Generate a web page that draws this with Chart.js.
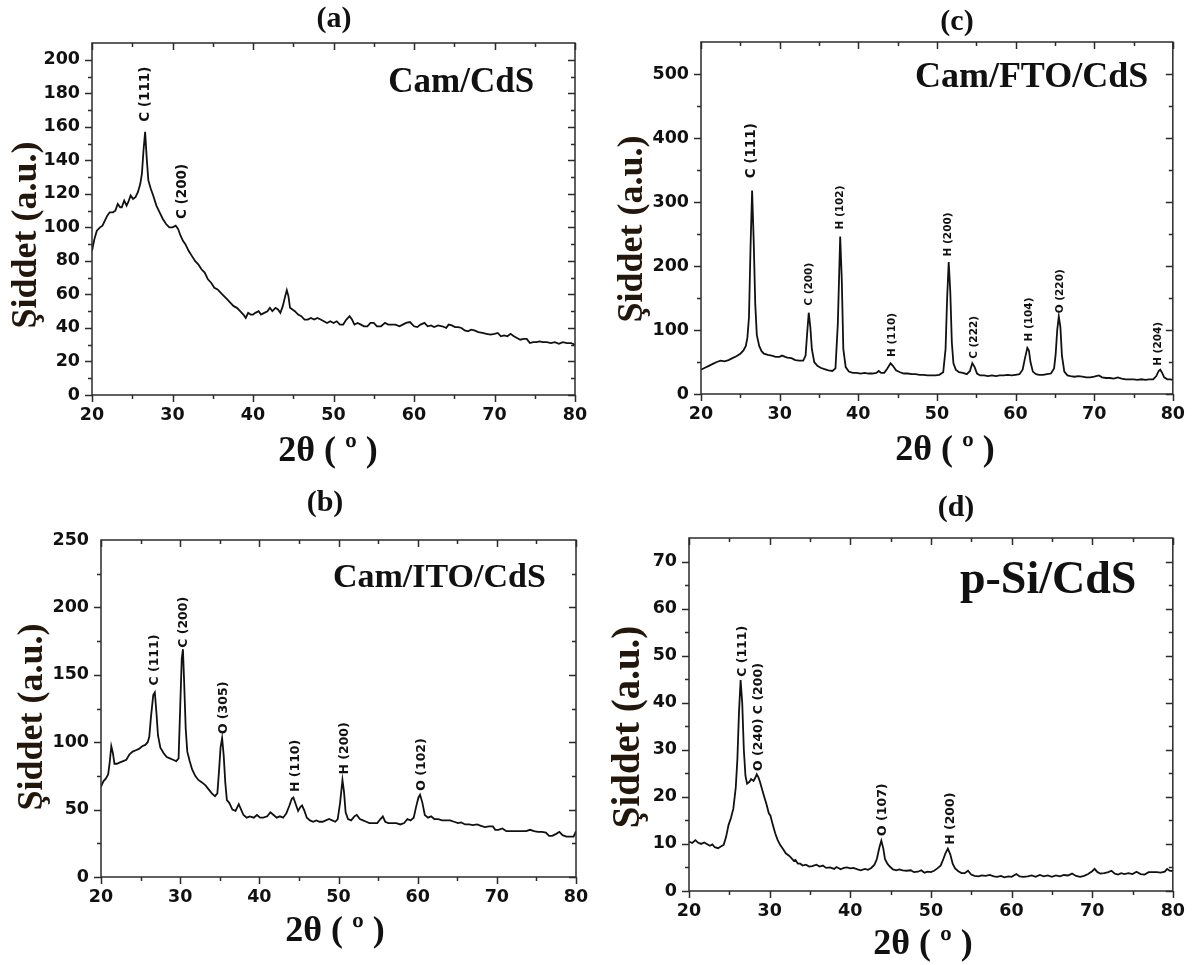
<!DOCTYPE html>
<html>
<head>
<meta charset="utf-8">
<title>XRD - CdS filmleri</title>
<script src="https://cdn.jsdelivr.net/npm/chart.js@4.4.1/dist/chart.umd.min.js"></script>
<style>
  html, body { margin: 0; padding: 0; background: #fff; }
  #wrap { position: relative; width: 1195px; height: 965px; overflow: hidden; }
  .panel { position: absolute; }
</style>
</head>
<body>
<div id="wrap">
  <canvas class="panel" id="chartA" width="600" height="480" style="left:0;top:0"></canvas>
  <canvas class="panel" id="chartC" width="595" height="480" style="left:600px;top:0"></canvas>
  <canvas class="panel" id="chartB" width="600" height="485" style="left:0;top:480px"></canvas>
  <canvas class="panel" id="chartD" width="595" height="485" style="left:600px;top:480px"></canvas>
</div>
<script>
// (a) Cam/CdS
const camCdsAngle = [20.0, 20.3, 20.6, 21.0, 21.3, 21.6, 21.9, 22.2, 22.6, 22.9, 23.2, 23.5, 23.7, 24.0, 24.3, 24.5, 24.8, 25.1, 25.4, 25.7,
  26.0, 26.2, 26.4, 26.6, 26.8, 27.0, 27.3, 27.6, 28.0, 28.4, 28.8, 29.2, 29.6, 30.0, 30.4, 30.7, 31.0, 31.3, 31.6, 32.0,
  32.4, 32.8, 33.2, 33.6, 34.0, 34.4, 34.8, 35.2, 35.6, 36.0, 36.4, 36.8, 37.2, 37.6, 38.0, 38.4, 38.8, 39.1, 39.4, 39.7,
  40.0, 40.3, 40.7, 41.0, 41.4, 41.8, 42.1, 42.4, 42.8, 43.1, 43.4, 43.7, 44.0, 44.2, 44.4, 44.6, 44.9, 45.2, 45.6, 46.0,
  46.4, 46.8, 47.2, 47.6, 48.0, 48.4, 48.8, 49.2, 49.6, 50.0, 50.4, 50.8, 51.2, 51.6, 52.0, 52.3, 52.6, 53.0, 53.4, 53.8,
  54.2, 54.6, 55.0, 55.4, 55.9, 56.4, 56.8, 57.2, 57.7, 58.2, 58.6, 59.0, 59.5, 60.0, 60.4, 60.8, 61.3, 61.7, 62.1, 62.5,
  63.0, 63.5, 64.0, 64.3, 64.7, 65.1, 65.5, 65.9, 66.3, 66.7, 67.1, 67.5, 68.0, 68.5, 69.0, 69.5, 70.0, 70.4, 70.8, 71.2,
  71.6, 72.0, 72.4, 72.8, 73.2, 73.6, 74.0, 74.4, 74.8, 75.2, 75.6, 76.0, 76.5, 77.0, 77.5, 78.0, 78.5, 79.0, 79.5, 80.0];
const camCdsCounts = [86, 93, 98, 100, 101, 104, 107, 109, 109, 110, 114, 112, 112, 116, 113, 115, 119, 117, 118, 121,
  126, 132, 146, 157, 141, 128, 123, 119, 113, 109, 105, 102, 100, 100, 101, 99, 95, 92, 90, 86,
  83, 80, 78, 75, 73, 69, 67, 64, 63, 61, 59, 57, 55, 53, 52, 50, 48, 46, 49, 48,
  48, 49, 50, 48, 49, 50, 52, 50, 52, 51, 49, 53, 59, 62.5, 59, 52, 51, 50, 48, 47,
  45, 45, 46, 45, 46, 45, 44, 43, 44, 43, 44, 42, 42, 45, 47, 45, 42, 43, 42, 41,
  41, 43, 43, 41, 41, 43, 42, 42, 42, 41, 42, 43, 43.5, 41, 40.5, 42, 43, 41, 41.5, 40.5,
  41.5, 41, 40, 42, 41.5, 40.5, 40.5, 40, 38.5, 38, 39, 38.5, 37.5, 37, 36.5, 36, 36.5, 37, 35, 35.5,
  35, 36.5, 35, 34, 33, 33.5, 33.5, 31, 31.5, 31.5, 32, 31.5, 31.5, 31, 31.5, 30.5, 31.5, 31, 31, 30];

// (c) Cam/FTO/CdS
const camFtoAngle = [20.0, 20.5, 21.0, 21.5, 22.0, 22.5, 23.0, 23.5, 24.0, 24.5, 25.0, 25.4, 25.7, 25.9, 26.1, 26.3, 26.5, 26.7, 26.9, 27.1,
  27.4, 27.7, 28.0, 28.5, 29.0, 29.5, 30.0, 30.3, 30.7, 31.0, 31.5, 32.0, 32.5, 33.0, 33.3, 33.5, 33.7, 33.9, 34.1, 34.4,
  34.8, 35.2, 35.7, 36.2, 36.7, 37.1, 37.4, 37.7, 37.9, 38.1, 38.4, 38.8, 39.3, 39.8, 40.3, 40.8, 41.3, 41.8, 42.3, 42.6,
  42.9, 43.3, 43.7, 44.1, 44.4, 44.8, 45.3, 45.8, 46.3, 46.8, 47.3, 47.8, 48.3, 48.8, 49.3, 49.8, 50.3, 50.8, 51.1, 51.3,
  51.5, 51.7, 51.9, 52.1, 52.4, 52.8, 53.3, 53.8, 54.2, 54.5, 54.8, 55.1, 55.5, 56.0, 56.5, 57.0, 57.5, 58.0, 58.5, 59.0,
  59.5, 60.0, 60.5, 60.9, 61.2, 61.5, 61.7, 61.9, 62.2, 62.6, 63.0, 63.5, 64.0, 64.5, 64.9, 65.1, 65.3, 65.5, 65.7, 65.9,
  66.2, 66.6, 67.0, 67.5, 68.0, 68.5, 69.0, 69.5, 70.0, 70.6, 71.0, 71.5, 72.0, 72.5, 73.0, 73.5, 74.0, 74.5, 75.0, 75.5,
  76.0, 76.5, 77.0, 77.5, 77.9, 78.2, 78.4, 78.6, 78.9, 79.3, 79.7, 80.0];
const camFtoCounts = [38, 41, 44, 47, 50, 52, 51, 53, 56, 59, 63, 68, 75, 88, 120, 230, 318, 240, 140, 92,
  75, 67, 63, 61, 60, 58, 58, 60, 58, 57, 56, 53, 52, 52, 60, 95, 127, 105, 70, 50,
  44, 41, 39, 37, 36, 40, 110, 246, 180, 70, 42, 35, 33, 33, 32, 33, 32, 32, 33, 36,
  33, 33, 40, 48, 44, 37, 34, 32, 32, 31, 31, 30, 30, 29, 29, 29, 30, 34, 70, 150,
  206, 160, 80, 48, 38, 34, 33, 31, 36, 48, 42, 32, 29, 29, 28, 29, 28, 29, 29, 30,
  29, 30, 31, 38, 56, 72, 68, 50, 35, 31, 30, 30, 31, 32, 40, 62, 100, 121, 105, 60,
  35, 29, 28, 27, 28, 27, 26, 26, 27, 29, 26, 25, 25, 24, 26, 24, 23, 23, 23, 22,
  23, 22, 23, 23, 28, 36, 38, 34, 26, 23, 23, 22];

// (b) Cam/ITO/CdS
const camItoAngle = [20.0, 20.3, 20.6, 20.9, 21.1, 21.3, 21.5, 21.7, 22.0, 22.4, 22.8, 23.2, 23.6, 24.0, 24.4, 24.8, 25.2, 25.6, 25.9, 26.1,
  26.3, 26.6, 26.8, 27.0, 27.2, 27.5, 27.9, 28.3, 28.7, 29.1, 29.5, 29.8, 30.0, 30.2, 30.35, 30.5, 30.7, 30.9, 31.2, 31.5,
  31.9, 32.3, 32.8, 33.2, 33.6, 34.0, 34.4, 34.7, 34.9, 35.1, 35.3, 35.5, 35.7, 35.9, 36.2, 36.6, 37.0, 37.4, 37.7, 38.0,
  38.4, 38.8, 39.3, 39.7, 40.1, 40.5, 41.0, 41.4, 41.8, 42.2, 42.6, 43.0, 43.4, 43.8, 44.1, 44.3, 44.6, 44.9, 45.2, 45.4,
  45.7, 46.0, 46.4, 46.8, 47.2, 47.6, 48.0, 48.4, 48.8, 49.2, 49.6, 49.9, 50.2, 50.5, 50.7, 50.9, 51.2, 51.6, 52.0, 52.3,
  52.7, 53.1, 53.5, 53.9, 54.4, 54.9, 55.3, 55.6, 55.9, 56.3, 56.8, 57.3, 57.8, 58.3, 58.7, 59.1, 59.5, 59.8, 60.1, 60.3,
  60.6, 60.9, 61.3, 61.7, 62.1, 62.6, 63.1, 63.6, 64.1, 64.6, 65.1, 65.5, 66.0, 66.5, 67.0, 67.5, 68.0, 68.5, 69.0, 69.5,
  69.8, 70.2, 70.7, 71.2, 71.7, 72.2, 72.7, 73.2, 73.7, 74.2, 74.7, 75.2, 75.7, 76.2, 76.6, 77.0, 77.5, 77.9, 78.3, 78.8,
  79.3, 79.7, 80.0];
const camItoCounts = [67, 71, 73, 76, 85, 97, 92, 84, 84, 85, 86, 87, 91, 93, 94, 95, 97, 98, 100, 104,
  118, 135, 137, 122, 105, 96, 92, 89, 88, 87, 86, 88, 125, 162, 169, 145, 110, 93, 86, 80,
  75, 72, 70, 68, 65, 62, 60, 62, 78, 96, 103, 90, 70, 57, 55, 50, 49, 54, 50, 46,
  44, 45, 44, 46, 44, 44, 45, 48, 46, 44, 45, 44, 47, 53, 58, 59, 54, 49, 52, 53,
  49, 44, 42, 41, 42, 41, 41, 42, 43, 42, 41, 43, 55, 72, 63, 48, 43, 42, 45, 46,
  43, 42, 41, 40, 40, 40, 43, 45, 41, 40, 40, 40, 39, 40, 43, 42, 44, 52, 59, 61,
  55, 46, 44, 45, 43, 43, 42, 42, 42, 41, 40, 40.5, 39, 39, 38.5, 39, 38, 37, 37.5, 37.5,
  35, 35, 36, 34, 34, 34, 34, 34, 34, 35, 34, 33.5, 33.5, 33, 30.5, 30.5, 32, 33.5, 31, 30,
  30, 30, 34];

// (d) p-Si/CdS
const pSiAngle = [20.0, 20.4, 20.8, 21.1, 21.5, 21.9, 22.2, 22.6, 22.9, 23.2, 23.6, 24.0, 24.3, 24.6, 24.9, 25.2, 25.5, 25.8, 26.0, 26.2,
  26.4, 26.6, 26.8, 27.0, 27.2, 27.5, 27.7, 28.0, 28.2, 28.4, 28.6, 28.8, 29.0, 29.3, 29.6, 29.9, 30.1, 30.4, 30.7, 31.0,
  31.3, 31.7, 32.0, 32.4, 32.7, 33.0, 33.2, 33.5, 33.8, 34.1, 34.5, 34.9, 35.3, 35.8, 36.2, 36.6, 37.0, 37.5, 38.0, 38.3,
  38.8, 39.2, 39.6, 40.0, 40.4, 40.9, 41.3, 41.8, 42.2, 42.6, 43.0, 43.3, 43.6, 43.85, 44.1, 44.3, 44.6, 44.9, 45.3, 45.7,
  46.1, 46.5, 47.0, 47.5, 47.9, 48.4, 48.8, 49.2, 49.6, 50.0, 50.4, 50.8, 51.2, 51.5, 51.8, 52.1, 52.4, 52.7, 53.0, 53.4,
  53.8, 54.2, 54.6, 55.0, 55.4, 55.9, 56.3, 56.8, 57.3, 57.8, 58.2, 58.7, 59.1, 59.6, 60.0, 60.6, 61.0, 61.5, 62.0, 62.5,
  63.0, 63.5, 64.0, 64.5, 65.0, 65.5, 66.0, 66.5, 67.0, 67.5, 68.0, 68.5, 69.0, 69.5, 70.0, 70.3, 70.6, 71.0, 71.5, 72.0,
  72.4, 72.8, 73.2, 73.6, 74.0, 74.5, 75.0, 75.5, 76.0, 76.5, 77.0, 77.5, 78.0, 78.5, 79.0, 79.3, 79.6, 80.0];
const pSiCounts = [10.5, 10.2, 10.8, 10.3, 10.0, 10.3, 10.0, 9.6, 9.9, 9.3, 9.1, 9.5, 9.8, 11.5, 14, 15.5, 17.5, 22, 28, 38,
  44.8, 40, 30, 24.5, 22.8, 23.2, 23.8, 23.4, 24, 24.8, 24.2, 23.2, 22, 20.2, 18.5, 16.5, 16, 14, 12.2, 10.8,
  9.8, 8.8, 8, 7.5, 7, 6.4, 6.6, 5.8, 5.8, 5.4, 5.6, 5.2, 5.3, 5.6, 5.2, 5.4, 4.9, 5.0, 4.7, 5.1,
  4.6, 4.9, 5.0, 4.8, 4.9, 4.6, 4.4, 4.7, 4.5, 4.9, 5.6, 6.8, 9.2, 10.7, 9.0, 6.8, 5.8, 5.2, 4.6, 4.4,
  4.6, 4.4, 4.3, 4.4, 4.0, 4.1, 4.4, 3.9, 4.1, 4.0, 4.3, 4.8, 5.4, 6.6, 8.0, 9.0, 7.8, 5.8, 4.8, 4.2,
  3.8, 3.8, 4.3, 3.5, 3.2, 3.1, 3.3, 3.2, 3.4, 3.1, 3.0, 3.2, 2.9, 3.1, 3.0, 3.6, 3.1, 3.0, 3.1, 3.3,
  3.0, 3.4, 3.1, 3.3, 3.0, 3.3, 3.1, 3.4, 3.3, 3.7, 3.2, 3.0, 3.2, 3.6, 4.2, 4.7, 4.1, 3.7, 3.8, 4.0,
  4.3, 3.7, 3.5, 3.8, 3.6, 3.8, 3.6, 4.1, 3.6, 3.5, 4.0, 4.0, 4.0, 3.9, 4.1, 4.7, 4.3, 4.2];

// peak labels: [text, 2θ, intensity where the label starts]
const camCdsPeaks = [['C (111)', 26.6, 163], ['C (200)', 31.3, 105]];
const camFtoPeaks = [['C (111)', 26.4, 337], ['C (200)', 33.8, 138], ['H (102)', 37.7, 257], ['H (110)', 44.3, 58],
  ['H (200)', 51.5, 215], ['C (222)', 54.8, 55], ['H (104)', 61.7, 82], ['O (220)', 65.7, 126], ['H (204)', 78.2, 44]];
const camItoPeaks = [['C (111)', 26.85, 142], ['C (200)', 30.5, 170], ['O (305)', 35.45, 106], ['H (110)', 44.6, 63],
  ['H (200)', 50.85, 76], ['O (102)', 60.5, 64]];
const pSiPeaks = [['C (111)', 26.7, 45.5], ['O (240) C (200)', 28.65, 25.5], ['O (107)', 44.0, 11.7], ['H (200)', 52.5, 9.8]];

const INK = '#111';
const TICK_FONT = { family: '"DejaVu Sans", sans-serif', size: 17.5, weight: 'bold' };
const SERIF = '"Liberation Serif", "Times New Roman", serif';

// box with ticks on all four sides (out on left/bottom, in on top/right)
const framePlugin = {
  id: 'xrdFrame',
  afterDraw(chart, args, opts) {
    const { ctx, chartArea: a, scales: { x, y } } = chart;
    const isMajor = (v, step) => Math.abs(v / step - Math.round(v / step)) < 1e-6;
    ctx.save();
    ctx.strokeStyle = '#2b2b2b';
    ctx.lineWidth = 1.5;
    ctx.strokeRect(a.left, a.top, a.right - a.left, a.bottom - a.top);
    ctx.beginPath();
    for (let v = x.min; v <= x.max + 1e-9; v += opts.xMinor) {
      const px = Math.round(x.getPixelForValue(v)) + 0.5;
      const len = isMajor(v, opts.xMajor) ? 7 : 4;
      ctx.moveTo(px, a.bottom); ctx.lineTo(px, a.bottom + len);
      ctx.moveTo(px, a.top); ctx.lineTo(px, a.top + len);
    }
    for (let v = y.min; v < y.max - 1e-9; v += opts.yMinor) {
      const py = Math.round(y.getPixelForValue(v)) + 0.5;
      const len = isMajor(v, opts.yMajor) ? 7 : 4;
      ctx.moveTo(a.left, py); ctx.lineTo(a.left - len, py);
      ctx.moveTo(a.right, py); ctx.lineTo(a.right - len, py);
    }
    ctx.stroke();
    ctx.restore();
  }
};

// panel letter, sample name, axis titles and peak labels
const textPlugin = {
  id: 'xrdText',
  afterDraw(chart, args, o) {
    const { ctx, scales: { x, y } } = chart;
    ctx.save();
    ctx.fillStyle = INK;
    ctx.textAlign = 'center';
    ctx.textBaseline = 'middle';
    ctx.font = 'bold 30px ' + SERIF;
    ctx.fillText(o.letter, o.letterAt[0], o.letterAt[1]);

    ctx.font = 'bold 36px ' + SERIF;
    ctx.fillText('2θ ( º )', o.xTitleAt[0], o.xTitleAt[1]);

    ctx.save();
    ctx.translate(o.yTitleAt[0], o.yTitleAt[1]);
    ctx.rotate(-Math.PI / 2);
    ctx.fillStyle = '#23170c';
    ctx.font = 'bold ' + o.yTitleSize + 'px ' + SERIF;
    ctx.fillText('Şiddet (a.u.)', 0, 0);
    ctx.restore();

    ctx.textAlign = 'left';
    ctx.textBaseline = 'alphabetic';
    ctx.font = 'bold ' + o.sampleSize + 'px ' + SERIF;
    ctx.fillText(o.sample, x.getPixelForValue(o.sampleAt[0]), y.getPixelForValue(o.sampleAt[1]));

    ctx.textBaseline = 'middle';
    o.peaks.forEach(([txt, deg, val], i) => {
      const size = o.peakSizes ? o.peakSizes[i] : o.peakSize;
      ctx.save();
      ctx.translate(x.getPixelForValue(deg), y.getPixelForValue(val));
      ctx.rotate(-Math.PI / 2);
      ctx.font = 'bold ' + size + 'px "DejaVu Sans", sans-serif';
      ctx.fillText(txt, 0, 0);
      ctx.restore();
    });
    ctx.restore();
  }
};

function makeChart(id, cfg) {
  const canvas = document.getElementById(id);
  const W = canvas.width, H = canvas.height;
  const area = cfg.area;
  return new Chart(canvas, {
    type: 'scatter',
    data: {
      datasets: [{
        data: cfg.angle.map((a, i) => ({ x: a, y: cfg.counts[i] })),
        showLine: true,
        borderColor: INK,
        borderWidth: 1.8,
        pointRadius: 0,
        tension: 0
      }]
    },
    options: {
      responsive: false,
      animation: false,
      events: [],
      layout: { padding: { left: 0, top: area.t, right: W - area.r, bottom: 0 } },
      plugins: {
        legend: { display: false },
        tooltip: { enabled: false },
        xrdFrame: { xMajor: 10, xMinor: 5, yMajor: cfg.yStep, yMinor: cfg.yStep / 2 },
        xrdText: cfg.text
      },
      scales: {
        x: {
          type: 'linear', min: 20, max: 80,
          ticks: { stepSize: 10, padding: 10, font: TICK_FONT, color: INK, maxRotation: 0, includeBounds: false },
          grid: { display: false, drawTicks: false },
          border: { display: false },
          afterFit(s) { s.height = H - area.b; }
        },
        y: {
          type: 'linear', min: 0, max: cfg.yMax,
          ticks: { stepSize: cfg.yStep, padding: 12, font: TICK_FONT, color: INK, includeBounds: false },
          grid: { display: false, drawTicks: false },
          border: { display: false },
          afterFit(s) { s.width = area.l; }
        }
      }
    },
    plugins: [framePlugin, textPlugin]
  });
}

makeChart('chartA', {
  angle: camCdsAngle, counts: camCdsCounts, yMax: 210, yStep: 20,
  area: { l: 92, t: 43, r: 575, b: 395 },
  text: { letter: '(a)', letterAt: [334, 19], xTitleAt: [328, 452], yTitleAt: [27, 235], yTitleSize: 36,
    sample: 'Cam/CdS', sampleAt: [56.8, 181], sampleSize: 35, peaks: camCdsPeaks, peakSize: 13.5 }
});

makeChart('chartC', {
  angle: camFtoAngle, counts: camFtoCounts, yMax: 550, yStep: 100,
  area: { l: 101, t: 42, r: 579, b: 394 },
  text: { letter: '(c)', letterAt: [357, 22], xTitleAt: [345, 451], yTitleAt: [33, 229], yTitleSize: 36,
    sample: 'Cam/FTO/CdS', sampleAt: [47.2, 479], sampleSize: 36, peaks: camFtoPeaks,
    peakSizes: [13.5, 10.5, 10.5, 10.5, 10.5, 10.5, 10.5, 10.5, 10.5] }
});

makeChart('chartB', {
  angle: camItoAngle, counts: camItoCounts, yMax: 250, yStep: 50,
  area: { l: 101, t: 60, r: 576, b: 397 },
  text: { letter: '(b)', letterAt: [325, 23], xTitleAt: [335, 452], yTitleAt: [33, 237], yTitleSize: 36,
    sample: 'Cam/ITO/CdS', sampleAt: [49.3, 215], sampleSize: 34, peaks: camItoPeaks, peakSize: 12.5 }
});

makeChart('chartD', {
  angle: pSiAngle, counts: pSiCounts, yMax: 75, yStep: 10,
  area: { l: 89, t: 58, r: 578, b: 411 },
  text: { letter: '(d)', letterAt: [356, 28], xTitleAt: [323, 465], yTitleAt: [29, 247], yTitleSize: 39,
    sample: 'p-Si/CdS', sampleAt: [53.6, 63.3], sampleSize: 46, peaks: pSiPeaks, peakSize: 12.5 }
});
</script>
</body>
</html>
